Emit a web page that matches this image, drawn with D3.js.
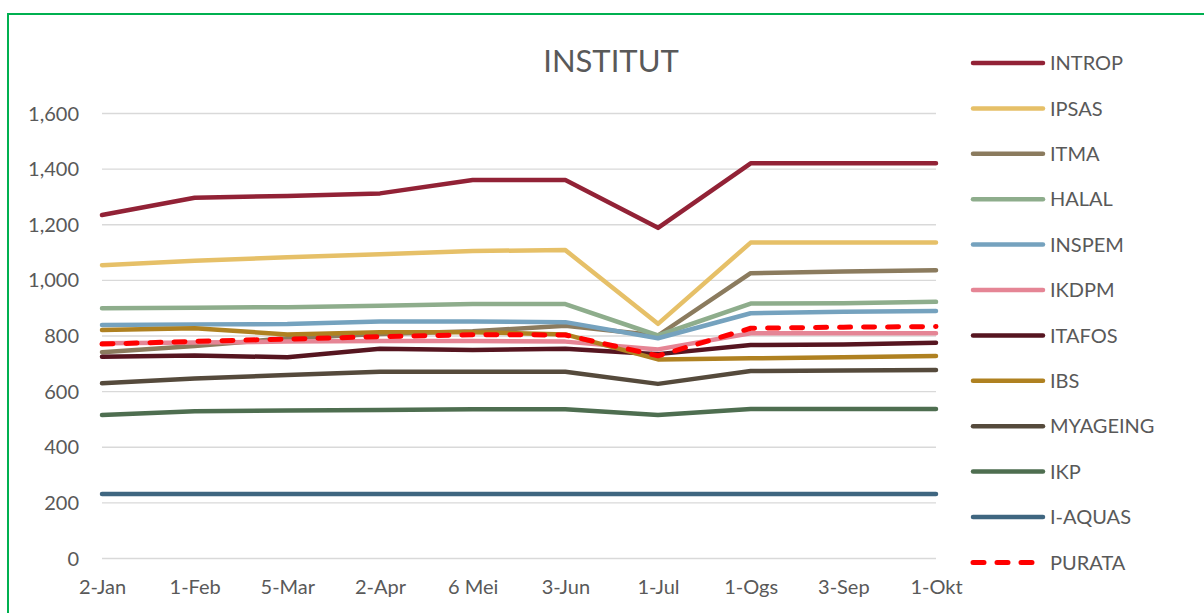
<!DOCTYPE html>
<html>
<head>
<meta charset="utf-8">
<script src="https://cdn.jsdelivr.net/npm/d3@7"></script>
<style>
  html, body { margin: 0; padding: 0; background: #fff; }
  svg { display: block; }
  text { font-family: Lato, "Open Sans", sans-serif; fill: #595959; }
</style>
</head>
<body>
<svg id="chart" width="1204" height="613"></svg>
<script>
// ---- data ----
const categories = ["2-Jan","1-Feb","5-Mar","2-Apr","6 Mei","3-Jun","1-Jul","1-Ogs","3-Sep","1-Okt"];
const yTicks = [0,200,400,600,800,1000,1200,1400,1600];

const INTROP   = [1233,1295,1302,1311,1359,1359,1187,1419,1419,1419];
const IPSAS    = [1053,1069,1081,1092,1104,1107,842,1134,1134,1134];
const ITMA     = [740,762,790,805,815,835,800,1024,1030,1035];
const HALAL    = [898,900,902,907,913,913,800,915,916,921];
const INSPEM   = [838,840,841,850,850,848,790,880,885,888];
const IKDPM    = [772,775,778,780,780,778,750,808,808,808];
const ITAFOS   = [724,728,722,752,748,752,733,766,768,774];
const IBS      = [820,826,804,812,812,804,714,718,722,726];
const MYAGEING = [628,645,658,670,670,670,626,672,674,676];
const IKP      = [514,528,530,532,535,535,514,536,536,536];
const IAQUAS   = [230,230,230,230,230,230,230,230,230,230];
const PURATA   = [769,779,787,796,803,802,727,826,830,832];

const seriesNames  = ["INTROP","IPSAS","ITMA","HALAL","INSPEM","IKDPM","ITAFOS","IBS","MYAGEING","IKP","I-AQUAS","PURATA"];
const seriesValues = [INTROP,IPSAS,ITMA,HALAL,INSPEM,IKDPM,ITAFOS,IBS,MYAGEING,IKP,IAQUAS,PURATA];
const seriesColors = ["#922236","#E6C068","#8B7B5E","#8EAD8C","#75A2BE","#E58595","#561520","#AF8121","#554A3C","#4E6E50","#3F6680","#FF0000"];

// ---- layout ----
const svg = d3.select("#chart");
const plot = {left: 102, right: 936, top: 113, bottom: 558};

const x = d3.scalePoint().domain(categories).range([plot.left, plot.right]).padding(0);
const y = d3.scaleLinear().domain([0,1600]).range([plot.bottom, plot.top]);

// chart border (green)
svg.append("rect")
  .attr("x", 8).attr("y", 14).attr("width", 1220).attr("height", 640)
  .attr("fill", "none").attr("stroke", "#00B050").attr("stroke-width", 2);

// title
svg.append("text")
  .attr("x", 611).attr("y", 72)
  .attr("text-anchor", "middle")
  .style("font-size", "31px")
  .text("INSTITUT");

// gridlines
const yAxis = d3.axisLeft(y).tickValues(yTicks)
  .tickSize(-(plot.right - plot.left))
  .tickFormat(d3.format(","))
  .tickPadding(23);
const gy = svg.append("g").attr("transform", `translate(${plot.left},0)`).call(yAxis);
gy.select(".domain").remove();
gy.selectAll(".tick line").attr("stroke", "#D9D9D9").attr("stroke-width", 1.3);
gy.selectAll(".tick text").style("font-size", "20px").attr("fill", "#595959").attr("dy", "0.35em");

// x axis labels
const xAxis = d3.axisBottom(x).tickSize(0).tickPadding(22);
const gx = svg.append("g").attr("transform", `translate(0,${plot.bottom})`).call(xAxis);
gx.select(".domain").remove();
gx.selectAll(".tick text").style("font-size", "20px").attr("fill", "#595959");

// lines
const line = d3.line().x((d,i) => x(categories[i])).y(d => y(d));
seriesNames.forEach((name, k) => {
  const isAvg = name === "PURATA";
  svg.append("path")
    .datum(seriesValues[k])
    .attr("d", line)
    .attr("fill", "none")
    .attr("stroke", seriesColors[k])
    .attr("stroke-width", isAvg ? 5 : 4.5)
    .attr("stroke-linecap", "round")
    .attr("stroke-linejoin", "round")
    .attr("stroke-dasharray", isAvg ? "11,13" : null);
});

// legend
const legend = svg.append("g");
seriesNames.forEach((name, k) => {
  const ly = 63 + k * 45.4;
  const isAvg = name === "PURATA";
  legend.append("line")
    .attr("x1", 973).attr("x2", isAvg ? 1038 : 1043)
    .attr("y1", ly).attr("y2", ly)
    .attr("stroke", seriesColors[k])
    .attr("stroke-width", isAvg ? 5 : 4.5)
    .attr("stroke-linecap", "round")
    .attr("stroke-dasharray", isAvg ? "11,13" : null);
  legend.append("text")
    .attr("x", 1050).attr("y", ly)
    .attr("dy", "0.36em")
    .style("font-size", "20px")
    .text(name);
});
</script>
</body>
</html>
